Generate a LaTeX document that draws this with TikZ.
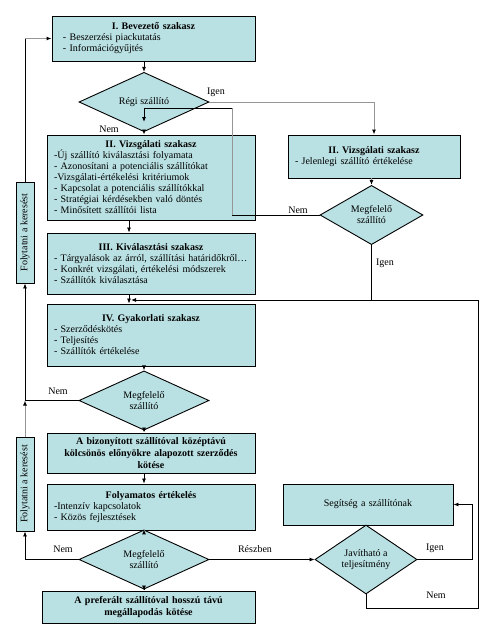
\documentclass[tikz,border=0pt]{standalone}
\usepackage{fontspec}
\setmainfont{Liberation Serif}
\usetikzlibrary{arrows.meta}
\usetikzlibrary{shapes.geometric}
\definecolor{kek}{RGB}{185,224,226}
\definecolor{szurke}{RGB}{150,150,150}
\newcommand{\cim}[1]{\hbox to\hsize{\hss\textbf{#1}\hss}}

\begin{document}
\begin{tikzpicture}[x=1pt,y=-1pt,
    every node/.style={font=\fontsize{10}{11}\selectfont},
    doboz/.style={draw, line width=0.9pt, fill=kek, align=left, inner ysep=0pt, inner xsep=7pt},
    kovert/.style={align=center, font=\fontsize{10}{12}\selectfont\bfseries},
    romb/.style={draw, diamond, line width=0.9pt, fill=kek, align=center, inner sep=0pt},
    folyt/.style={draw, line width=0.9pt, fill=kek, inner sep=0pt, minimum width=18pt},
    vonal/.style={line width=0.8pt},
    nyil/.style={vonal, -{Latex[length=5pt,width=4pt]}},
    szvonal/.style={line width=1pt, draw=szurke},
    sznyil/.style={szvonal, -{Latex[length=5pt,width=4pt,color=black]}},
    felirat/.style={inner sep=0pt}]
    \useasboundingbox (0,0) rectangle (484,625);

    % szakaszok
    \node[doboz, text width=181pt, inner xsep=11pt, minimum height=45pt] (bev) at (153.5,38.5)
      {\cim{I. Bevezető szakasz}\\- Beszerzési piackutatás\\- Információgyűjtés};
    \node[romb, minimum width=130pt, minimum height=46pt] (regi) at (144,102) {Régi szállító};
    \node[doboz, text width=194pt, minimum height=85pt] (vizs) at (151,177.5)
      {\cim{II. Vizsgálati szakasz}\\-Új szállító kiválasztási folyamata\\- Azonosítani a potenciális szállítókat\\-Vizsgálati-értékelési kritériumok\\- Kapcsolat a potenciális szállítókkal\\- Stratégiai kérdésekben való döntés\\- Minősített szállítói lista};
    \node[doboz, text width=158pt, minimum height=43pt] (vizsr) at (374,156.5)
      {\cim{II. Vizsgálati szakasz}\\- Jelenlegi szállító értékelése\par\vspace{9pt}};
    \node[romb, minimum width=103pt, minimum height=46pt] (megr) at (371.5,215) {Megfelelő\\szállító};
    \node[doboz, text width=194pt, minimum height=61pt] (kiv) at (151,263.5)
      {\cim{III. Kiválasztási szakasz}\\- Tárgyalások az árról, szállítási határidőkről…\\- Konkrét vizsgálati, értékelési módszerek\\- Szállítók kiválasztása};
    \node[doboz, text width=194pt, minimum height=62pt] (gyak) at (151,335)
      {\cim{IV. Gyakorlati szakasz}\\- Szerződéskötés\\- Teljesítés\\- Szállítók értékelése};
    \node[romb, minimum width=130pt, minimum height=47pt] (meg2) at (144,400.5) {Megfelelő\\szállító};
    \node[doboz, kovert, text width=194pt, minimum height=40pt] (biz) at (151,453)
      {A bizonyított szállítóval középtávú\\kölcsönös előnyökre alapozott szerződés\\kötése};
    \node[doboz, text width=194pt, minimum height=46pt] (foly) at (151,507)
      {\cim{Folyamatos értékelés}\\-Intenzív kapcsolatok\\- Közös fejlesztések};
    \node[romb, minimum width=130pt, minimum height=47pt] (meg3) at (144,559.5) {Megfelelő\\szállító};
    \node[doboz, kovert, text width=199pt, minimum height=32pt] (pref) at (148.5,607)
      {A preferált szállítóval hosszú távú\\megállapodás kötése};
    \node[doboz, align=center, text width=156pt, minimum height=41pt] (seg) at (368,504.5) {Segítség a szállítónak};
    \node[romb, minimum width=102pt, minimum height=47pt] (jav) at (366,559.5) {Javítható a\\teljesítmény};
    \node[folyt, minimum height=101pt] (fk1) at (25,232.5) {\rotatebox{90}{Folytatni a keresést}};
    \node[folyt, minimum height=94pt] (fk2) at (25,484) {\rotatebox{90}{Folytatni a keresést}};

    % segedpontok
    \coordinate (sarok) at (232,108);
    \coordinate (regibe) at (144,122);
    \coordinate (gyakbe) at (131,300);
    \coordinate (jobbfent) at (478,300);
    \coordinate (jobblent) at (478,608);
    \coordinate (oszlop) at (129,0);
    \coordinate (javjobb) at (472,0);

    % nyilak
    \draw[vonal] (fk1.north) -- (fk1.north |- bev.west);  %bal hurok
    \draw[sznyil] (fk1.north |- bev.west) -- (bev.west);
    \draw[nyil] (bev.south -| regi.north) -- (regi.north);
    \foreach \a/\b in {regi/vizs, meg2/biz, meg3/pref}
    {
      \draw[nyil] (\a.south) -- (\a.south |- \b.north);
    }
    \foreach \a/\b in {vizs/kiv, kiv/gyak}
    {
      \draw[nyil] (\a.south -| oszlop) -- (\b.north -| oszlop);
    }
    \draw[sznyil] (regi.east) -| (vizsr.north);
    \draw[sznyil] (vizsr.south -| megr.north) -- (megr.north);
    \draw[vonal] (megr.west) -- (megr.west -| sarok);  %Nem ag
    \draw[szvonal] (megr.west -| sarok) -- (sarok);
    \draw[nyil] (sarok) -- (sarok -| regibe) -- (regibe);
    \draw[vonal] (megr.south) -- (megr.south |- jobbfent);  %Igen ag
    \draw[nyil] (jav.south) |- (jobblent) -- (jobbfent) -- (gyakbe);
    \draw[nyil] (gyak.south -| meg2.north) -- (meg2.north);
    \draw[nyil] (meg2.west) -| (fk1.south);
    \draw[sznyil] (fk2.north) -- (fk2.north |- meg2.west);
    \draw[nyil] (biz.south -| meg2) -- (foly.north -| meg2);
    \draw[sznyil] (foly.south -| meg3) -- (meg3.north);
    \draw[nyil] (meg3.west) -| (fk2.south);
    \draw[nyil] (meg3.east) -- (jav.west);
    \draw[nyil] (jav.east) -- (jav.east -| javjobb) |- (seg.east);

    % feliratok
    \node[felirat] (nem1) at (109,129) {Nem};
    \node[felirat] (igen1) at (216,92) {Igen};
    \node[felirat] (nem2) at (298,210) {Nem};
    \node[felirat] (igen2) at (385,263) {Igen};
    \node[felirat] (nem3) at (58,391) {Nem};
    \node[felirat] (nem4) at (63,549) {Nem};
    \node[felirat] (reszben) at (255,549) {Részben};
    \node[felirat] (igen3) at (435,548) {Igen};
    \node[felirat] (nem5) at (436,595) {Nem};
\end{tikzpicture}
\end{document}
